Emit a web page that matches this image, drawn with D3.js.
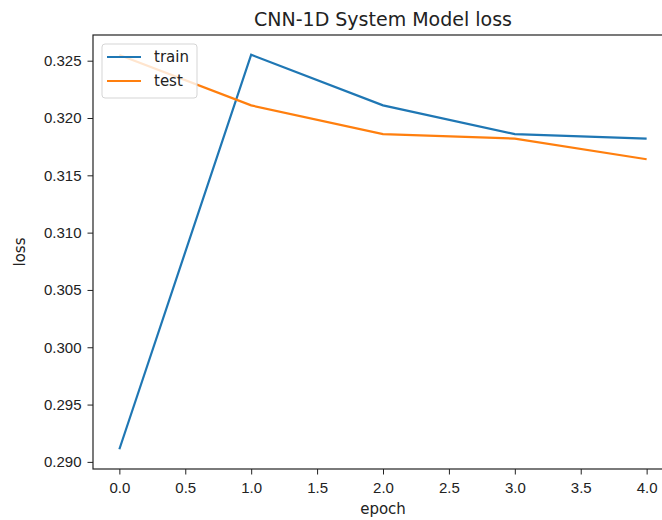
<!DOCTYPE html>
<html>
<head>
<meta charset="utf-8">
<script src="https://cdn.jsdelivr.net/npm/d3@7"></script>
<style>
  body { margin: 0; background: #fff; }
  svg { font-family: "DejaVu Sans", sans-serif; }
</style>
</head>
<body>
<div id="chart"></div>
<script>
const epochs = [0, 1, 2, 3, 4];
const trainLoss = [0.2911, 0.32552, 0.3211, 0.3186, 0.3182];
const testLoss = [0.3255, 0.3211, 0.3186, 0.3182, 0.3164];
const xTicks = [0, 0.5, 1, 1.5, 2, 2.5, 3, 3.5, 4];
const yTicks = [0.290, 0.295, 0.300, 0.305, 0.310, 0.315, 0.320, 0.325];

function main() {
    const W = 662, H = 520;
    const svg = d3.select("#chart").append("svg")
        .attr("width", W)
        .attr("height", H);

    const left = 93, right = 673, top = 35, bottom = 469;

    // matplotlib style 5% margins
    const xPad = 0.05 * (d3.max(epochs) - d3.min(epochs));
    const allY = trainLoss.concat(testLoss);
    const yMin = d3.min(allY), yMax = d3.max(allY);
    const yPad = 0.05 * (yMax - yMin);

    const x = d3.scaleLinear()
        .domain([d3.min(epochs) - xPad, d3.max(epochs) + xPad])
        .range([left, right]);
    const y = d3.scaleLinear()
        .domain([yMin - yPad, yMax + yPad])
        .range([bottom, top]);

    const g = svg.append("g");

    // x axis
    const xAxis = g.append("g")
        .attr("transform", "translate(0," + bottom + ")")
        .call(d3.axisBottom(x).tickValues(xTicks).tickFormat(d3.format(".1f")).tickSize(5.5).tickPadding(8));
    xAxis.select(".domain").remove();
    xAxis.selectAll("text").style("font-size", "15px").attr("fill", "#222");
    xAxis.selectAll("line").attr("stroke", "#222");

    const yAxis = g.append("g")
        .attr("transform", "translate(" + left + ",0)")
        .call(d3.axisLeft(y).tickValues(yTicks).tickFormat(d3.format(".3f")).tickSize(5.5).tickPadding(6));
    yAxis.select(".domain").remove();
    yAxis.selectAll("text").style("font-size", "15px").attr("fill", "#222");
    yAxis.selectAll("line").attr("stroke", "#222");

    const line = d3.line()
        .x((d, i) => x(epochs[i]))
        .y(d => y(d));

    svg.append("clipPath").attr("id", "clip")
        .append("rect").attr("x", left).attr("y", top)
        .attr("width", right - left).attr("height", bottom - top);

    const plot = g.append("g").attr("clip-path", "url(#clip)");

    plot.append("path")
        .datum(trainLoss)
        .attr("d", line)
        .attr("fill", "none")
        .attr("stroke", "#1f77b4")
        .attr("stroke-width", 2.2);

    plot.append("path")
        .datum(testLoss)
        .attr("d", line)
        .attr("fill", "none")
        .attr("stroke", "#ff7f0e")
        .attr("stroke-width", 2.2);

    // spines
    g.append("rect")
        .attr("x", left).attr("y", top)
        .attr("width", right - left).attr("height", bottom - top)
        .attr("fill", "none")
        .attr("stroke", "#222")
        .attr("stroke-width", 1.2);

    // legend
    const leg = g.append("g").attr("transform", "translate(102,44)");
    leg.append("rect")
        .attr("width", 95).attr("height", 54)
        .attr("rx", 3)
        .attr("fill", "#fff").attr("fill-opacity", 0.8)
        .attr("stroke", "#d5d5d5");
    const items = [["train", "#1f77b4"], ["test", "#ff7f0e"]];
    items.forEach((it, i) => {
        const yy = 13 + i * 24;
        leg.append("line")
            .attr("x1", 5).attr("x2", 39)
            .attr("y1", yy).attr("y2", yy)
            .attr("stroke", it[1]).attr("stroke-width", 2.2);
        leg.append("text")
            .attr("x", 52).attr("y", yy)
            .attr("dy", "0.35em")
            .style("font-size", "15px")
            .attr("fill", "#222")
            .text(it[0]);
    });

    // title and labels
    svg.append("text")
        .attr("x", (left + right) / 2).attr("y", 26)
        .attr("text-anchor", "middle")
        .style("font-size", "19px")
        .attr("fill", "#222")
        .text("CNN-1D System Model loss");

    svg.append("text")
        .attr("x", (left + right) / 2).attr("y", 514)
        .attr("text-anchor", "middle")
        .style("font-size", "15px")
        .attr("fill", "#222")
        .text("epoch");

    svg.append("text")
        .attr("transform", "translate(25," + ((top + bottom) / 2) + ") rotate(-90)")
        .attr("text-anchor", "middle")
        .style("font-size", "15px")
        .attr("fill", "#222")
        .text("loss");
}
main();
</script>
</body>
</html>
